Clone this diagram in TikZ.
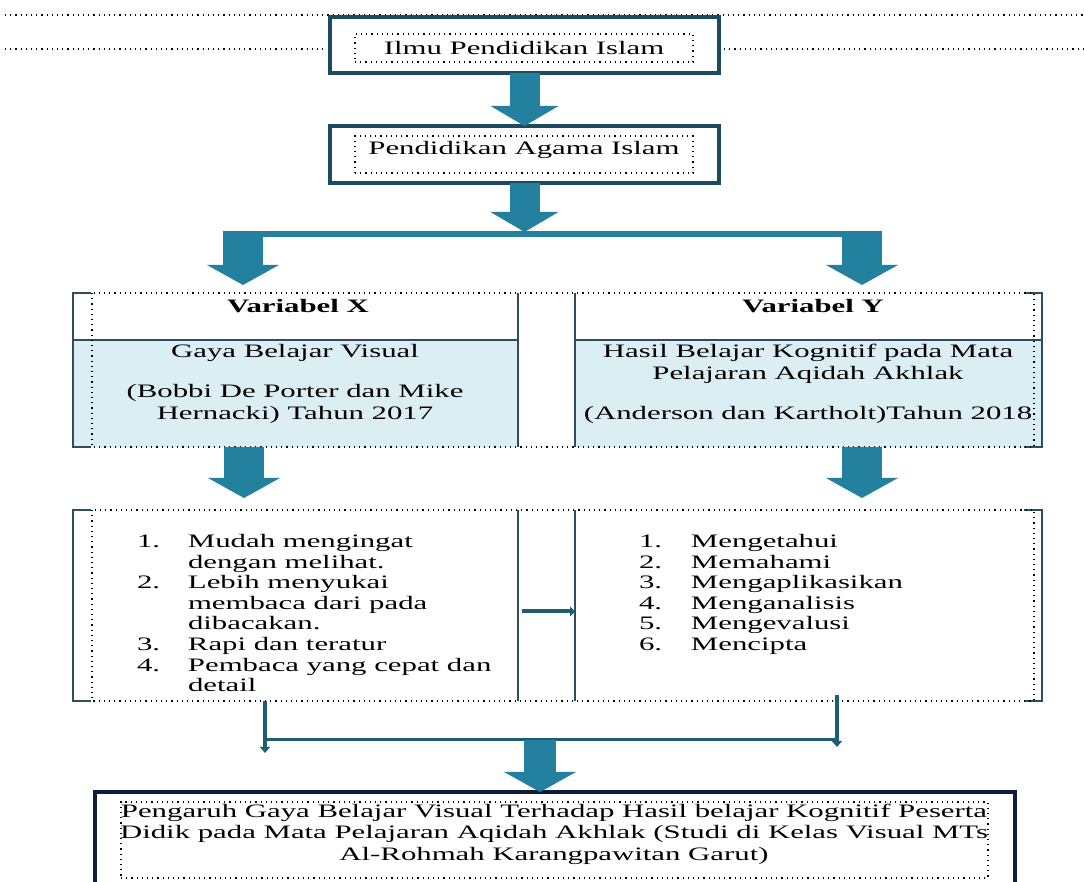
\documentclass[tikz,border=0pt]{standalone}
\usepackage{fontspec}
\setmainfont{Liberation Serif}[FakeStretch=1.62]
\usetikzlibrary{arrows.meta}

\definecolor{framecol}{HTML}{1B4B5E}
\definecolor{navycol}{HTML}{101C3C}
\definecolor{tealcol}{HTML}{23809E}
\definecolor{cellcol}{HTML}{DAEEF3}
\definecolor{rulecol}{HTML}{2E4E5E}
\definecolor{joincol}{HTML}{1D5E73}

\begin{document}
\begin{tikzpicture}[x = 0.5pt, y = -0.5pt,
    every node/.style = {font = \fontsize{9.5}{11}\selectfont, inner sep = 0pt, outer sep = 0pt},
    frame/.style = {draw = framecol, line width = 1.6pt, minimum width = 194.5pt},
    dotbox/.style = {draw, dotted, line width = 0.6pt},
    dotline/.style = {dotted, line width = 0.6pt},
    tabrule/.style = {draw = rulecol, line width = 0.8pt},
    smallarrow/.style = {draw = tealcol, line width = 15pt, -{Triangle[width = 34pt, length = 10pt, line width = 0pt]}},
    bigarrow/.style = {draw = tealcol, line width = 20pt, -{Triangle[width = 36pt, length = 10pt, line width = 0pt]}},
    joinline/.style = {draw = joincol, line width = 2.2pt}]
    \useasboundingbox[fill = white] (0,0) rectangle (1084,882);

    % page lines
    \draw[dotline] (5,15) -- (1084,15);
    \draw[dotline] (5,49) -- (325,49);
    \draw[dotline] (724,49) -- (1084,49);

    % top boxes
    \node[frame, minimum height = 28pt] (ilmu) at (524.5,45) {};
    \node[dotbox, minimum width = 169pt, minimum height = 14pt] (ilmuin) at (524,48) {Ilmu Pendidikan Islam};
    \node[frame, minimum height = 28.5pt] (pai) at (524.5,154.5) {};
    \node[dotbox, minimum width = 169pt, minimum height = 18.5pt, text height = 6pt, text depth = 6pt] (paiin) at (524,154.5) {Pendidikan Agama Islam};

    \draw[smallarrow] (ilmu.south) -- (pai.north);
    \coordinate (split) at (524.5,232);
    \coordinate (bl) at (223,234);
    \coordinate (br) at (882,234);
    \draw[smallarrow] (pai.south) -- (split);
    \draw[tealcol, line width = 3pt] (bl) -- (br);

    % variabel table
    \node[minimum width = 222.5pt, minimum height = 23.5pt] (hX) at (295.5,316.5) {};
    \node[minimum width = 222.5pt, minimum height = 53.5pt, fill = cellcol] (bX) at (295.5,393.5) {};
    \node[minimum width = 233.5pt, minimum height = 23.5pt] (hY) at (808.5,316.5) {};
    \node[minimum width = 233.5pt, minimum height = 53.5pt, fill = cellcol] (bY) at (808.5,393.5) {};

    \draw[bigarrow, shorten > = 4pt] (243,232) -- (hX.north -| 243,0);
    \draw[bigarrow, shorten > = 4pt] (862,232) -- (hY.north -| 862,0);

    \draw[tabrule] ([xshift = 9pt]hX.north west) -- (hX.north west) -- (bX.south west) -- ++(18,0);
    \draw[tabrule] ([xshift = -9pt]hY.north east) -- (hY.north east) -- (bY.south east) -- ++(-18,0);
    \draw[tabrule] (hX.north east) -- (bX.south east);
    \draw[tabrule] (hY.north west) -- (bY.south west);
    \draw[tabrule] (hX.south west) -- (hX.south east);
    \draw[tabrule] (hY.south west) -- (hY.south east);
    \draw[dotline] ([xshift = 9.5pt]hX.north west) rectangle ([xshift = -4pt]bY.south east);

    \node (varX) at (298,306) {\textbf{Variabel X}};
    \node (varY) at (813,306) {\textbf{Variabel Y}};
    \node[align = center] (gaya) at (295,384) {Gaya Belajar Visual\\[9pt](Bobbi De Porter dan Mike\\Hernacki) Tahun 2017};
    \node[align = center] (kogn) at (808,384) {Hasil Belajar Kognitif pada Mata\\Pelajaran Aqidah Akhlak\\[9pt](Anderson dan Kartholt)Tahun 2018};

    % indikator table
    \node[minimum width = 222.5pt, minimum height = 95.5pt] (lX) at (295.5,605.5) {};
    \node[minimum width = 233.5pt, minimum height = 95.5pt] (lY) at (808.5,605.5) {};

    \draw[bigarrow] (bX.south -| 244,0) -- ([yshift = 6pt]lX.north -| 244,0);
    \draw[bigarrow] (bY.south -| 862,0) -- ([yshift = 6pt]lY.north -| 862,0);

    \draw[tabrule] ([xshift = 9pt]lX.north west) -- (lX.north west) -- (lX.south west) -- ++(18,0);
    \draw[tabrule] ([xshift = -9pt]lY.north east) -- (lY.north east) -- (lY.south east) -- ++(-18,0);
    \draw[tabrule] (lX.north east) -- (lX.south east);
    \draw[tabrule] (lY.north west) -- (lY.south west);
    \draw[dotline] ([xshift = 9.5pt]lX.north west) rectangle ([xshift = -4pt]lY.south east);

    \node[anchor = north west, font = \fontsize{9.5}{10.3}\selectfont] (listX) at (137,533) {%
        \begin{tabular}{@{}p{25.5pt}@{}l@{}}
        1. & Mudah mengingat\\
           & dengan melihat.\\
        2. & Lebih menyukai\\
           & membaca dari pada\\
           & dibacakan.\\
        3. & Rapi dan teratur\\
        4. & Pembaca yang cepat dan\\
           & detail
        \end{tabular}};
    \node[anchor = north west, font = \fontsize{9.5}{10.3}\selectfont] (listY) at (639,533) {%
        \begin{tabular}{@{}p{26pt}@{}l@{}}
        1. & Mengetahui\\
        2. & Memahami\\
        3. & Mengaplikasikan\\
        4. & Menganalisis\\
        5. & Mengevalusi\\
        6. & Mencipta
        \end{tabular}};

    \draw[draw = joincol, line width = 2pt, -{Triangle[width = 5pt, length = 2.5pt]}] ([xshift = 2pt, yshift = -3pt]lX.east) -- ([yshift = -3pt]lY.west);

    % join to result
    \coordinate (jl) at (265,740);
    \coordinate (jr) at (837,740);
    \coordinate (jm) at (540,740);
    \draw[joinline, -{Triangle[width = 5pt, length = 3pt]}] (lX.south -| jl) -- ++(0,52);
    \draw[joinline, -{Triangle[width = 5pt, length = 3pt]}] ([yshift = 3pt]lY.south -| jr) -- ++(0,52);
    \draw[joinline, line width = 1.5pt] (jl) -- (jr);

    % result box
    \node[draw = navycol, line width = 1.6pt, minimum width = 460pt, minimum height = 54pt] (hasil) at (555,846) {};
    \node[dotbox, minimum width = 433.5pt, minimum height = 38pt] (hasilin) at (554.5,840) {};
    \node[align = center, font = \fontsize{9.5}{10.75}\selectfont] (hasiltxt) at (554,834) {Pengaruh Gaya Belajar Visual Terhadap Hasil belajar Kognitif Peserta\\Didik pada Mata Pelajaran Aqidah Akhlak (Studi di Kelas Visual MTs\\Al-Rohmah Karangpawitan Garut)};
    \draw[bigarrow, line width = 16pt] (jm) -- (jm |- hasil.north);
\end{tikzpicture}
\end{document}
